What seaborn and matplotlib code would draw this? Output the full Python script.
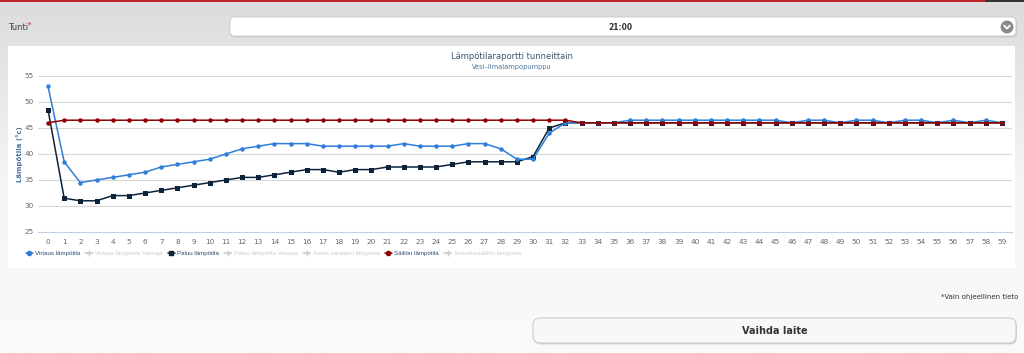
import numpy as np
import pandas as pd
import matplotlib
matplotlib.use("Agg")
import matplotlib.pyplot as plt
from matplotlib.patches import FancyBboxPatch, Rectangle, Circle
from matplotlib.lines import Line2D
import seaborn as sns

# Data (hour report, minutes 0..59)
minutes = list(range(60))
virtaus = [53, 38.5, 34.5, 35, 35.5, 36, 36.5, 37.5, 38, 38.5,
           39, 40, 41, 41.5, 42, 42, 42, 41.5, 41.5, 41.5,
           41.5, 41.5, 42, 41.5, 41.5, 41.5, 42, 42, 41, 39,
           39, 44, 46, 46, 46, 46, 46.5, 46.5, 46.5, 46.5,
           46.5, 46.5, 46.5, 46.5, 46.5, 46.5, 46, 46.5, 46.5, 46,
           46.5, 46.5, 46, 46.5, 46.5, 46, 46.5, 46, 46.5, 46]
paluu = [48.5, 31.5, 31, 31, 32, 32, 32.5, 33, 33.5, 34,
         34.5, 35, 35.5, 35.5, 36, 36.5, 37, 37, 36.5, 37,
         37, 37.5, 37.5, 37.5, 37.5, 38, 38.5, 38.5, 38.5, 38.5,
         39.5, 45, 46, 46, 46, 46, 46, 46, 46, 46,
         46, 46, 46, 46, 46, 46, 46, 46, 46, 46,
         46, 46, 46, 46, 46, 46, 46, 46, 46, 46]
sailio = [46] + [46.5] * 32 + [46] * 27

legend_labels = ["Virtaus lämpötila", "Virtaus lämpötila Varaaja", "Paluu lämpötila",
                 "Paluu lämpötila Varaaja", "Aseta varaajan lämpötila",
                 "Säiliön lämpötila", "Sekoitussäiliön lämpötila"]
y_ticks = [25, 30, 35, 40, 45, 50, 55]

df = pd.DataFrame({"min": minutes, "virtaus": virtaus, "paluu": paluu, "sailio": sailio})

sns.set_style("white")
plt.rcParams["font.family"] = ["DejaVu Sans"]

W, H = 1024, 353
fig = plt.figure(figsize=(W / 100, H / 100), dpi=100)

# ---- page background (pixel coords) ----
bg = fig.add_axes([0, 0, 1, 1], zorder=-5)
bg.set_xlim(0, W)
bg.set_ylim(H, 0)
bg.axis("off")
grad = np.linspace(0, 1, 256).reshape(-1, 1)
bg.imshow(grad, extent=[0, W, H, 0], aspect="auto",
          cmap=matplotlib.colors.LinearSegmentedColormap.from_list("g", ["#dcdcdc", "#f4f4f4", "#fafafa"]))
bg.add_patch(Rectangle((0, 0), 985, 2.2, color="#c0272d", lw=0))
bg.add_patch(Rectangle((985, 0), 39, 2.2, color="#333333", lw=0))

bg.text(8, 27.5, "Tunti", fontsize=6, color="#444444", va="center", ha="left")
bg.text(27.5, 25, "*", fontsize=5, color="#d0021b", va="center", ha="left")

# dropdown
bg.add_patch(FancyBboxPatch((231, 18.5), 786, 19, boxstyle="round,pad=0,rounding_size=5",
                            fc="#bdbdbd", ec="none", alpha=0.6))
bg.add_patch(FancyBboxPatch((230, 17), 786, 19, boxstyle="round,pad=0,rounding_size=5",
                            fc="white", ec="#c8c8c8", lw=0.6))
bg.text(620, 27, "21:00", fontsize=5.5, fontweight="bold", color="#333333", ha="center", va="center")
bg.add_patch(Circle((1007, 27), 6, fc="#8a8a8a", ec="#777777", lw=0.5))
bg.plot([1004, 1007, 1010], [25.5, 28.5, 25.5], color="white", lw=1.3, solid_capstyle="round")

# white chart panel
bg.add_patch(Rectangle((8, 46), 1007, 222, fc="white", ec="none"))

# footer note and button
bg.text(1018, 297, "*Vain ohjeellinen tieto", fontsize=5, color="#333333", ha="right", va="center")
bg.add_patch(FancyBboxPatch((534, 319.5), 483, 25, boxstyle="round,pad=0,rounding_size=7",
                            fc="#c4c4c4", ec="none", alpha=0.6))
bg.add_patch(FancyBboxPatch((533, 318), 483, 25, boxstyle="round,pad=0,rounding_size=7",
                            fc="#f8f8f8", ec="#c6c6c6", lw=0.7))
bg.text(775, 330.5, "Vaihda laite", fontsize=7, fontweight="bold", color="#333333", ha="center", va="center")

# title / subtitle
bg.text(512, 56.5, "Lämpötilaraportti tunneittain", fontsize=6.0, color="#3e576f", ha="center", va="center")
bg.text(512, 67, "Vesi–ilmalampopumppu", fontsize=4.8, color="#4d759e", ha="center", va="center")

# ---- chart axes ----
left, right = 38 / W, 1012 / W
top, bottom = (H - 76) / H, (H - 232) / H
ax = fig.add_axes([left, bottom, right - left, top - bottom])
ax.set_facecolor("none")

c_virtaus, c_paluu, c_sailio = "#2f7ed8", "#0d233a", "#910000"

sns.lineplot(data=df, x="min", y="virtaus", ax=ax, color=c_virtaus, lw=1.1,
             marker="o", markersize=3.2, markeredgewidth=0, zorder=4)
sns.lineplot(data=df, x="min", y="paluu", ax=ax, color=c_paluu, lw=1.1,
             marker="s", markersize=3.6, markeredgewidth=0, zorder=3)
sns.lineplot(data=df, x="min", y="sailio", ax=ax, color=c_sailio, lw=1.1,
             marker="o", markersize=3.2, markeredgewidth=0, zorder=5)

ax.set_xlim(-0.62, 59.62)
ax.set_ylim(25, 55)
ax.set_xticks(minutes)
ax.set_xticklabels([str(m) for m in minutes])
ax.set_yticks(y_ticks)
for y in y_ticks[1:]:
    ax.axhline(y, color="#d8d8d8", lw=0.8, zorder=0)
for s in ["top", "right", "left"]:
    ax.spines[s].set_visible(False)
ax.spines["bottom"].set_color("#c0d0e0")
ax.spines["bottom"].set_linewidth(0.8)
ax.tick_params(axis="x", length=3, width=0.6, color="#c0d0e0", labelsize=5.2, labelcolor="#666666", pad=2)
ax.tick_params(axis="y", length=0, labelsize=5.2, labelcolor="#666666", pad=3)
ax.set_xlabel("")
ax.set_ylabel("Lämpötila (°c)", fontsize=5.0, color="#4d759e", fontweight="bold", labelpad=1)

# legend (hidden series shown greyed out)
grey = "#cccccc"
handles = [
    Line2D([], [], color=c_virtaus, marker="o", markersize=3, lw=1.1),
    Line2D([], [], color=grey, marker="+", markersize=4, lw=1.1),
    Line2D([], [], color=c_paluu, marker="s", markersize=3.5, lw=1.1),
    Line2D([], [], color=grey, marker="+", markersize=4, lw=1.1),
    Line2D([], [], color=grey, marker="+", markersize=4, lw=1.1),
    Line2D([], [], color=c_sailio, marker="o", markersize=3, lw=1.1),
    Line2D([], [], color=grey, marker="+", markersize=4, lw=1.1),
]
leg = fig.legend(handles, legend_labels, ncol=7, loc="center left",
                 bbox_to_anchor=(20 / W, (H - 253) / H), frameon=False,
                 prop={"family": "Liberation Sans", "size": 4.4},
                 handlelength=1.2, handletextpad=0.4, columnspacing=0.8)
active = {0, 2, 5}
for i, t in enumerate(leg.get_texts()):
    t.set_color("#274b6d" if i in active else grey)

fig.savefig("out.png", dpi=100)
